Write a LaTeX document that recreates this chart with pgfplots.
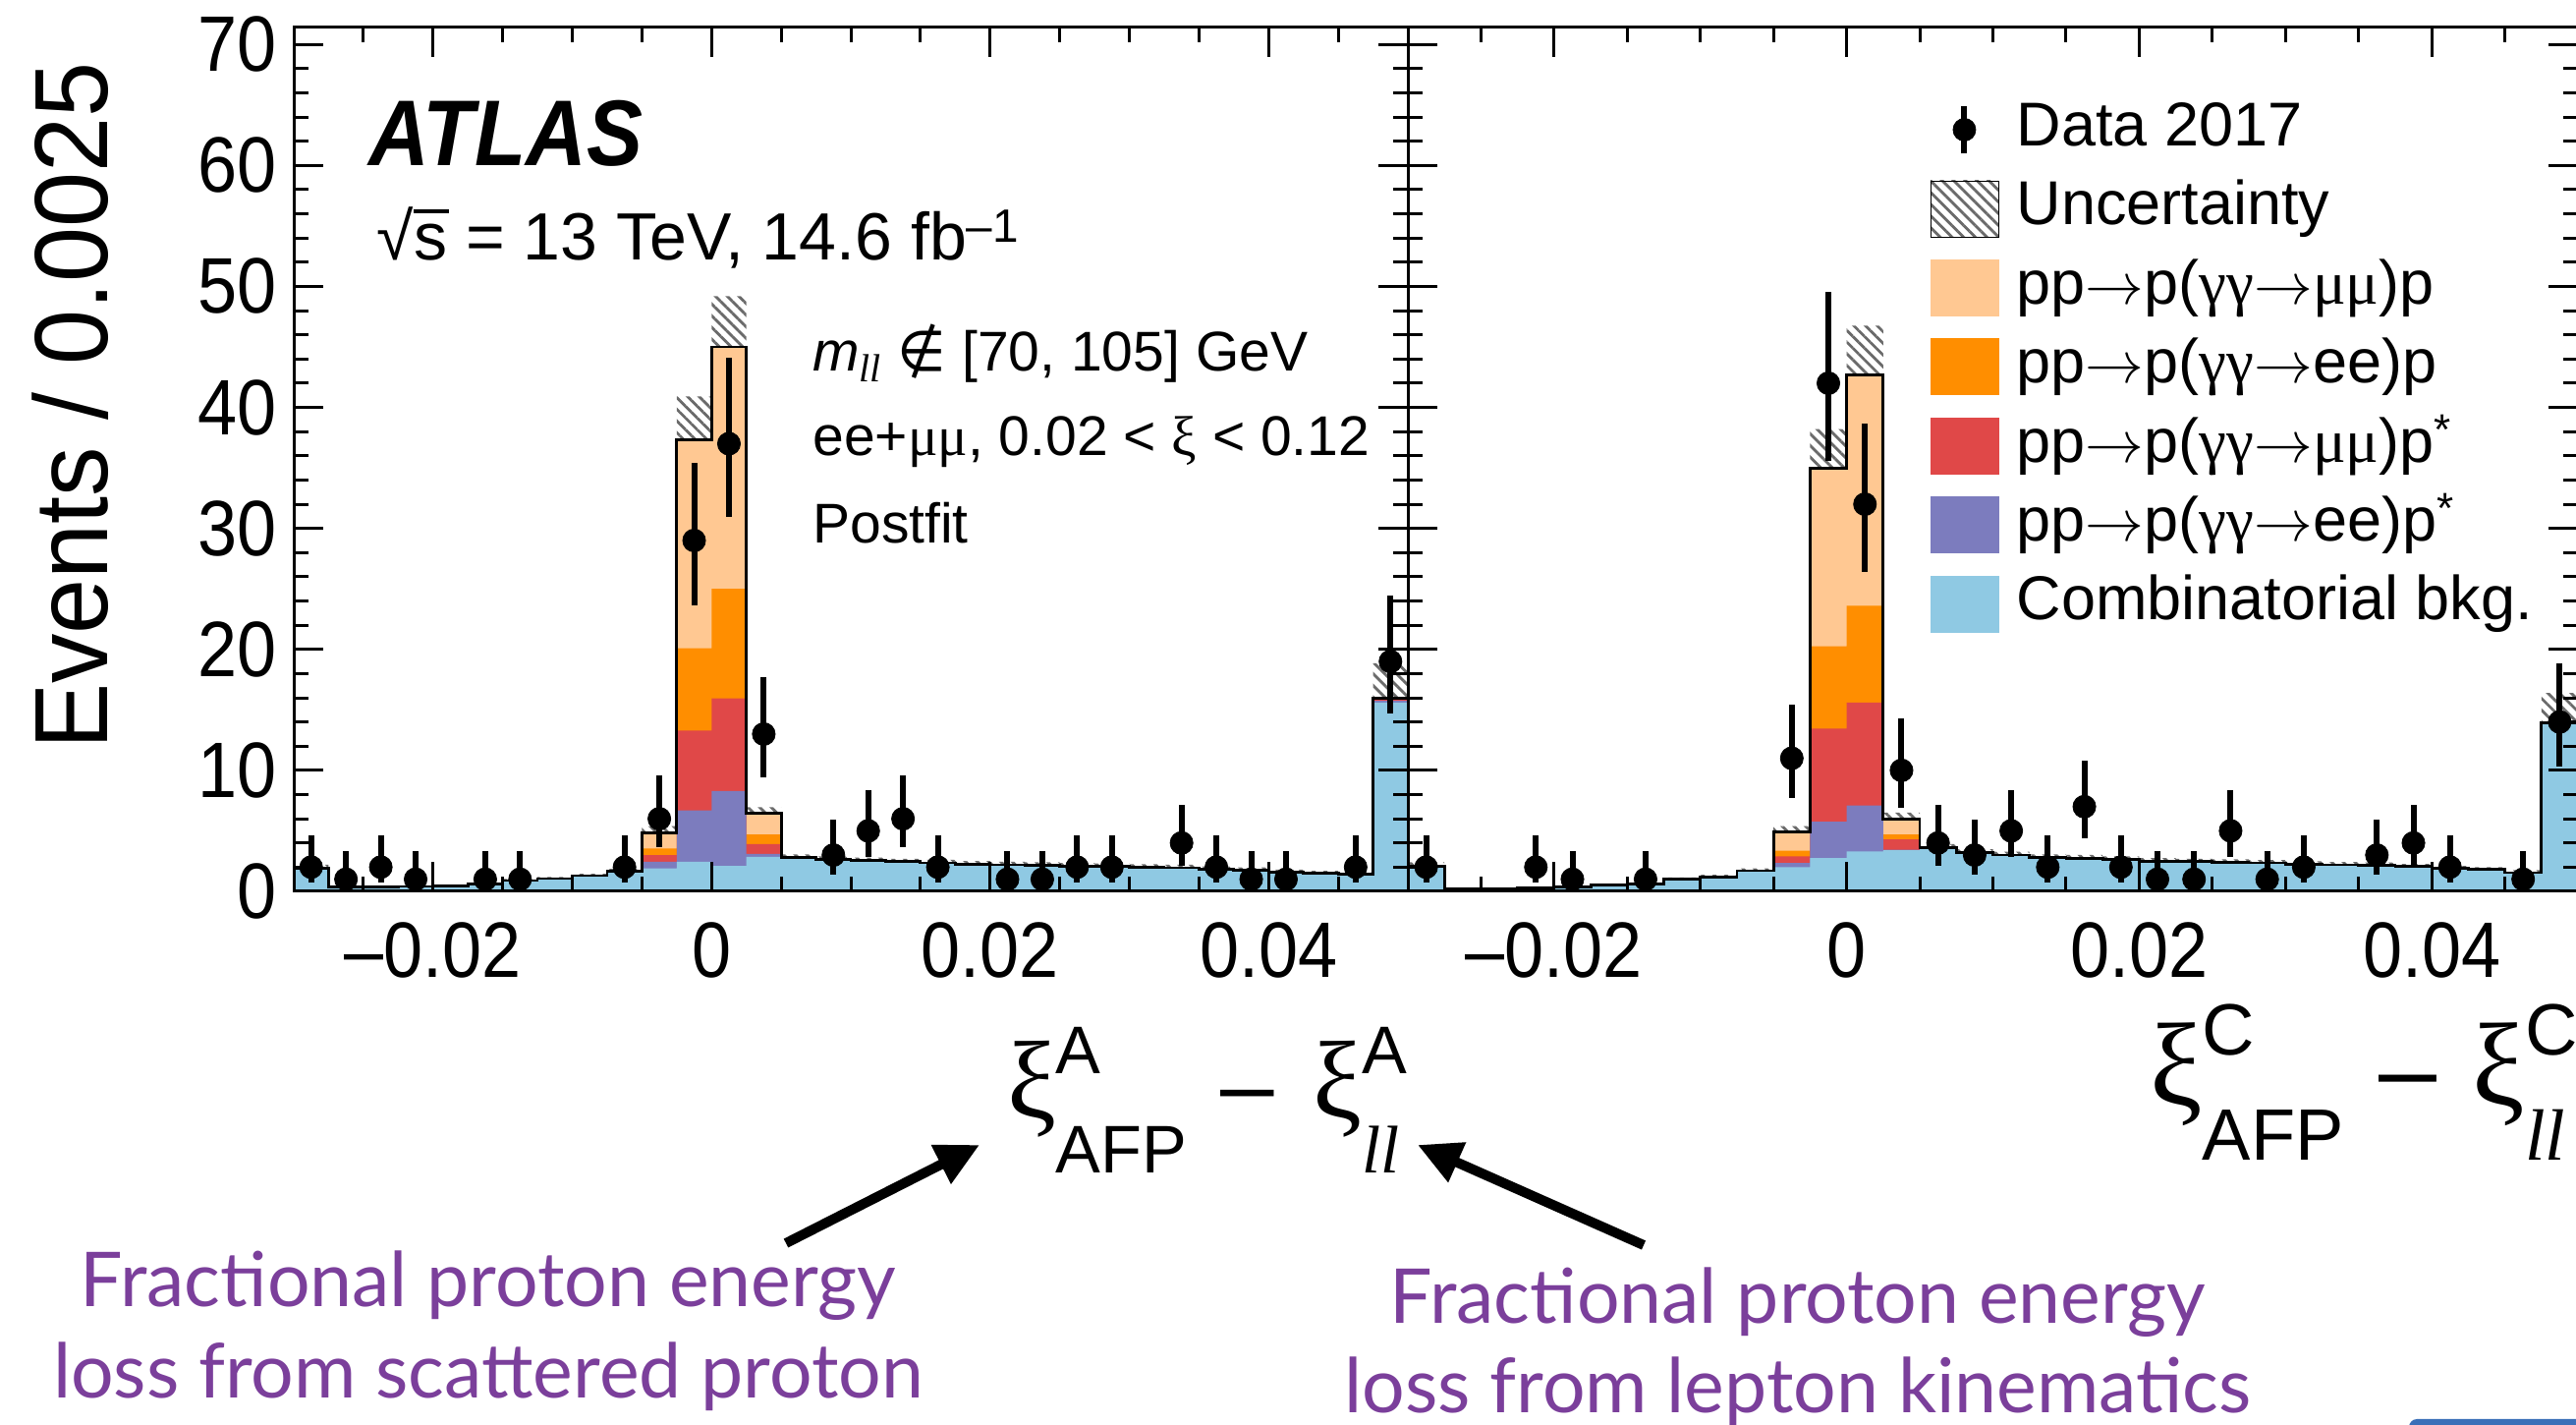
\documentclass[border=0pt]{standalone}
\usepackage{fontspec}
\setmainfont{Liberation Sans}
\newfontfamily\tickfont{Liberation Sans}[FakeStretch=0.9]
\newfontfamily\ylabfont{Liberation Sans}[FakeStretch=0.95]
\newfontfamily\atlasfont{Liberation Sans}[FakeStretch=0.9]
\newfontfamily\grk{Liberation Serif}
\newfontfamily\symfont{DejaVu Sans}
\newfontfamily\slidefont{Lato}
\usepackage{graphicx}
\usepackage{pgfplots}
\pgfplotsset{compat=1.18}
\usepackage{pgfplotstable}
\usepgfplotslibrary{fillbetween}
\usetikzlibrary{patterns.meta,arrows.meta}

\definecolor{cpeach}{HTML}{FFC892}
\definecolor{corange}{HTML}{FF8E00}
\definecolor{cred}{HTML}{E04848}
\definecolor{cpurple}{HTML}{7C7CBE}
\definecolor{cblue}{HTML}{8FC9E3}
\definecolor{hatchgray}{HTML}{6A6A6A}
\definecolor{slidepurple}{HTML}{7B3F9B}
\definecolor{slideblue}{HTML}{3A6FB8}

\tikzset{hatch/.style={pattern={Lines[angle=-45,distance=4.2pt,line width=1.4pt]}, pattern color=hatchgray}}

\newcommand{\fsz}[1]{\fontsize{#1}{#1}\selectfont}
\newcommand{\arr}{\scalebox{1.2}{$\rightarrow$}}

% MC stack, left panel (xi^A): x = bin left edge, b = combinatorial bkg,
% p = pp->p(gg->ee)p*, r = pp->p(gg->mumu)p*, o = pp->p(gg->ee)p, k = pp->p(gg->mumu)p, e = uncertainty
\pgfplotstableread{
x b p r o k e
-0.0300 1.90 0 0 0 0 0.30
-0.0275 0.35 0 0 0 0 0.08
-0.0250 0.35 0 0 0 0 0.08
-0.0225 0.40 0 0 0 0 0.08
-0.0200 0.45 0 0 0 0 0.08
-0.0175 0.60 0 0 0 0 0.10
-0.0150 0.90 0 0 0 0 0.12
-0.0125 1.05 0 0 0 0 0.14
-0.0100 1.30 0 0 0 0 0.16
-0.0075 1.65 0 0 0 0 0.20
-0.0050 1.90 0.55 0.55 0.55 1.25 0.60
-0.0025 2.45 4.25 6.60 6.80 17.20 3.60
0.0000 2.10 6.20 7.65 9.05 20.00 4.20
0.0025 2.85 0.25 0.80 0.80 1.75 0.50
0.0050 2.80 0 0 0 0 0.25
0.0075 2.65 0 0 0 0 0.25
0.0100 2.55 0 0 0 0 0.25
0.0125 2.45 0 0 0 0 0.25
0.0150 2.35 0 0 0 0 0.25
0.0175 2.25 0 0 0 0 0.25
0.0200 2.20 0 0 0 0 0.25
0.0225 2.15 0 0 0 0 0.25
0.0250 2.10 0 0 0 0 0.25
0.0275 2.05 0 0 0 0 0.25
0.0300 2.00 0 0 0 0 0.25
0.0325 1.95 0 0 0 0 0.25
0.0350 1.85 0 0 0 0 0.22
0.0375 1.75 0 0 0 0 0.22
0.0400 1.60 0 0 0 0 0.20
0.0425 1.50 0 0 0 0 0.20
0.0450 1.40 0 0 0 0 0.20
0.0475 15.60 0.15 0.20 0 0 2.90
0.0500 15.60 0.15 0.20 0 0 2.90
}\tabL

\pgfplotstableread{
x b p r o k e
-0.0300 2.10 0 0 0 0 0.30
-0.0275 0.25 0 0 0 0 0.06
-0.0250 0.25 0 0 0 0 0.06
-0.0225 0.30 0 0 0 0 0.07
-0.0200 0.35 0 0 0 0 0.08
-0.0175 0.50 0 0 0 0 0.10
-0.0150 0.60 0 0 0 0 0.12
-0.0125 1.00 0 0 0 0 0.15
-0.0100 1.20 0 0 0 0 0.16
-0.0075 1.70 0 0 0 0 0.20
-0.0050 2.00 0.35 0.55 0.45 1.55 0.50
-0.0025 2.75 3.00 7.70 6.80 14.70 3.25
0.0000 3.30 3.80 8.50 8.00 19.10 4.05
0.0025 3.40 0.05 0.85 0.40 1.30 0.50
0.0050 3.60 0 0 0 0 0.30
0.0075 3.20 0 0 0 0 0.28
0.0100 3.00 0 0 0 0 0.28
0.0125 2.80 0 0 0 0 0.26
0.0150 2.75 0 0 0 0 0.26
0.0175 2.65 0 0 0 0 0.25
0.0200 2.50 0 0 0 0 0.25
0.0225 2.45 0 0 0 0 0.25
0.0250 2.40 0 0 0 0 0.25
0.0275 2.35 0 0 0 0 0.24
0.0300 2.25 0 0 0 0 0.24
0.0325 2.20 0 0 0 0 0.23
0.0350 2.15 0 0 0 0 0.23
0.0375 2.05 0 0 0 0 0.22
0.0400 1.90 0 0 0 0 0.21
0.0425 1.80 0 0 0 0 0.20
0.0450 1.55 0 0 0 0 0.20
0.0475 13.90 0 0 0 0 2.50
0.0500 13.90 0 0 0 0 2.50
}\tabR

% Data 2017: bin centre, count, Poisson error down / up
\pgfplotstableread{
x n em ep
-0.02875 2 1.292 2.638
-0.02625 1 0.827 2.300
-0.02375 2 1.292 2.638
-0.02125 1 0.827 2.300
-0.01625 1 0.827 2.300
-0.01375 1 0.827 2.300
-0.00625 2 1.292 2.638
-0.00375 6 2.380 3.584
-0.00125 29 5.330 6.430
0.00125 37 6.030 7.110
0.00375 13 3.559 4.697
0.00875 3 1.633 2.918
0.01125 5 2.160 3.382
0.01375 6 2.380 3.584
0.01625 2 1.292 2.638
0.02125 1 0.827 2.300
0.02375 1 0.827 2.300
0.02625 2 1.292 2.638
0.02875 2 1.292 2.638
0.03375 4 1.914 3.163
0.03625 2 1.292 2.638
0.03875 1 0.827 2.300
0.04125 1 0.827 2.300
0.04625 2 1.292 2.638
0.04875 19 4.310 5.420
}\datL

\pgfplotstableread{
x n em ep
-0.02875 2 1.292 2.638
-0.02125 2 1.292 2.638
-0.01875 1 0.827 2.300
-0.01375 1 0.827 2.300
-0.00375 11 3.266 4.416
-0.00125 42 6.430 7.510
0.00125 32 5.610 6.700
0.00375 10 3.109 4.267
0.00625 4 1.914 3.163
0.00875 3 1.633 2.918
0.01125 5 2.160 3.382
0.01375 2 1.292 2.638
0.01625 7 2.581 3.770
0.01875 2 1.292 2.638
0.02125 1 0.827 2.300
0.02375 1 0.827 2.300
0.02625 5 2.160 3.382
0.02875 1 0.827 2.300
0.03125 2 1.292 2.638
0.03625 3 1.633 2.918
0.03875 4 1.914 3.163
0.04125 2 1.292 2.638
0.04625 1 0.827 2.300
0.04875 14 3.700 4.830
}\datR

\pgfplotsset{
  histpanel/.style={
    scale only axis, height=439.5pt,
    xmin=-0.03, xmax=0.05, ymin=0, ymax=71.4,
    axis on top,
    tick align=inside,
    scaled x ticks=false, scaled y ticks=false,
    xtick={-0.02,0,0.02,0.04},
    xticklabels={–0.02,0,0.02,0.04},
    minor xtick={-0.025,-0.015,-0.01,-0.005,0.005,0.01,0.015,0.025,0.03,0.035,0.045},
    ytick={0,10,20,30,40,50,60,70},
    minor ytick={2,4,6,8,12,14,16,18,22,24,26,28,32,34,36,38,42,44,46,48,52,54,56,58,62,64,66,68},
    major tick length=15pt, minor tick length=7.5pt,
    tick style={line width=1.5pt,black},
    axis line style={line width=1.5pt},
    xticklabel style={font=\tickfont\fsz{40pt}, inner sep=0pt, anchor=north, yshift=-15.5pt},
    yticklabel style={font=\tickfont\fsz{40pt}, inner sep=0pt, anchor=east, xshift=-8.5pt},
  },
}

\newcommand{\panelplots}[3]{%
  \addplot[draw=none, fill=cpeach, const plot, forget plot] table[x=x, y expr=\thisrow{b}+\thisrow{p}+\thisrow{r}+\thisrow{o}+\thisrow{k}] {#1} \closedcycle;
  \addplot[draw=none, fill=corange, const plot, forget plot] table[x=x, y expr=\thisrow{b}+\thisrow{p}+\thisrow{r}+\thisrow{o}] {#1} \closedcycle;
  \addplot[draw=none, fill=cred, const plot, forget plot] table[x=x, y expr=\thisrow{b}+\thisrow{p}+\thisrow{r}] {#1} \closedcycle;
  \addplot[draw=none, fill=cpurple, const plot, forget plot] table[x=x, y expr=\thisrow{b}+\thisrow{p}] {#1} \closedcycle;
  \addplot[draw=none, fill=cblue, const plot, forget plot] table[x=x, y=b] {#1} \closedcycle;
  \addplot[black, line width=1.4pt, const plot, forget plot] table[x=x, y expr=\thisrow{b}+\thisrow{p}+\thisrow{r}+\thisrow{o}+\thisrow{k}] {#1};
  \addplot[draw=none, const plot, forget plot, name path=up#3] table[x=x, y expr=\thisrow{b}+\thisrow{p}+\thisrow{r}+\thisrow{o}+\thisrow{k}+\thisrow{e}] {#1};
  \addplot[draw=none, const plot, forget plot, name path=dn#3] table[x=x, y expr=\thisrow{b}+\thisrow{p}+\thisrow{r}+\thisrow{o}+\thisrow{k}-\thisrow{e}] {#1};
  \addplot[draw=none, hatch, forget plot] fill between[of=up#3 and dn#3];
  \addplot[only marks, mark=*, mark size=5.8pt, black, forget plot,
     error bars/.cd, y dir=both, y explicit, error mark=none,
     error bar style={line width=3pt, black}]
     table[x=x, y=n, y error plus=ep, y error minus=em] {#2};
}

\begin{document}
\begin{tikzpicture}
% ---------------- left panel ----------------
\begin{axis}[histpanel,
  at={(149.5pt,271.5pt)}, anchor=south west, width=567pt,
  yticklabels={0,10,20,30,40,50,60,70},
  ylabel={Events / 0.0025},
  ylabel style={at={(rel axis cs:-0.2002,0.562)}, anchor=center, inner sep=0pt, font=\ylabfont\fsz{53pt}},
  xlabel={\fsz{49pt}{\grk\fsz{56pt}ξ}\rlap{\fsz{34.3pt}\raisebox{22.5pt}{A}}\raisebox{-28pt}{\fsz{34.3pt}AFP}\hspace{17pt}–\hspace{20pt}{\grk\fsz{56pt}ξ}\rlap{\raisebox{-28pt}{\fsz{34.3pt}\grk\itshape ll}}\raisebox{22.5pt}{\fsz{34.3pt}A}},
  xlabel style={at={(rel axis cs:1,-0.2617)}, anchor=base east, inner sep=0pt},
]
\panelplots{\tabL}{\datL}{L}
\end{axis}
% ---------------- right panel ----------------
\begin{axis}[histpanel,
  at={(716.5pt,271.5pt)}, anchor=south west, width=595.5pt,
  yticklabels={},
  xlabel={\fsz{53pt}{\grk\fsz{60pt}ξ}\rlap{\fsz{37pt}\raisebox{25.5pt}{C}}\raisebox{-28pt}{\fsz{37pt}AFP}\hspace{18pt}–\hspace{18pt}{\grk\fsz{60pt}ξ}\rlap{\raisebox{-28pt}{\fsz{37pt}\grk\itshape ll}}\raisebox{25.5pt}{\fsz{37pt}C}},
  xlabel style={at={(rel axis cs:1,-0.2469)}, anchor=base east, inner sep=0pt},
  legend style={at={(axis description cs:0.4463,0.9274)}, anchor=north west,
    draw=none, fill=none, inner sep=0pt, outer sep=0pt, row sep=0pt,
    font=\fsz{31.5pt},
    nodes={inner sep=0pt, text height=23pt, text depth=6.5pt},
    /tikz/every odd column/.append style={column sep=9.25pt}},
  legend cell align=left,
]
\panelplots{\tabR}{\datR}{R}
\addlegendimage{legend image code/.code={\path[draw=none,fill=none] (0pt,-20.1pt) rectangle (34.5pt,20.1pt); \draw[black, line width=3pt] (17.25pt,-12pt) -- (17.25pt,12pt); \fill[black] (17.25pt,0pt) circle (5.75pt);}}
\addlegendentry{Data 2017}
\addlegendimage{legend image code/.code={\path[draw=none,fill=none] (0pt,-20.1pt) rectangle (34.5pt,20.1pt); \fill[hatch] (0pt,-14.25pt) rectangle (34.5pt,14.25pt);}}
\addlegendentry{Uncertainty}
\addlegendimage{legend image code/.code={\path[draw=none,fill=none] (0pt,-20.1pt) rectangle (34.5pt,20.1pt); \fill[cpeach] (0pt,-14.25pt) rectangle (34.5pt,14.25pt);}}
\addlegendentry{pp\arr p({\grk γγ}\arr{\grk μμ})p}
\addlegendimage{legend image code/.code={\path[draw=none,fill=none] (0pt,-20.1pt) rectangle (34.5pt,20.1pt); \fill[corange] (0pt,-14.25pt) rectangle (34.5pt,14.25pt);}}
\addlegendentry{pp\arr p({\grk γγ}\arr ee)p}
\addlegendimage{legend image code/.code={\path[draw=none,fill=none] (0pt,-20.1pt) rectangle (34.5pt,20.1pt); \fill[cred] (0pt,-14.25pt) rectangle (34.5pt,14.25pt);}}
\addlegendentry{pp\arr p({\grk γγ}\arr{\grk μμ})p\textsuperscript{*}}
\addlegendimage{legend image code/.code={\path[draw=none,fill=none] (0pt,-20.1pt) rectangle (34.5pt,20.1pt); \fill[cpurple] (0pt,-14.25pt) rectangle (34.5pt,14.25pt);}}
\addlegendentry{pp\arr p({\grk γγ}\arr ee)p\textsuperscript{*}}
\addlegendimage{legend image code/.code={\path[draw=none,fill=none] (0pt,-20.1pt) rectangle (34.5pt,20.1pt); \fill[cblue] (0pt,-14.25pt) rectangle (34.5pt,14.25pt);}}
\addlegendentry{Combinatorial bkg.}
\end{axis}

% ---------------- labels in the left panel ----------------
\node[anchor=base west, inner sep=0pt, font=\atlasfont\bfseries\itshape\fsz{47.5pt}] at (187.5pt,640.5pt) {ATLAS};
\node[anchor=base west, inner sep=0pt, font=\fsz{34pt}] at (191.75pt,592.5pt)
  {√\makebox[0pt][l]{\rule[0.70em]{0.52em}{0.06em}}s = 13 TeV, 14.6 fb\textsuperscript{–1}};
\node[anchor=base west, inner sep=0pt, font=\fsz{28.5pt}] at (413.5pt,536pt)
  {\textit{m}\textsubscript{\grk\itshape ll} {\symfont ∉} [70, 105] GeV};
\node[anchor=base west, inner sep=0pt, font=\fsz{28.5pt}] at (413.5pt,493pt)
  {ee+{\grk μμ}, 0.02 < {\grk ξ} < 0.12};
\node[anchor=base west, inner sep=0pt, font=\fsz{28.5pt}] at (413.5pt,448.5pt) {Postfit};

% ---------------- slide annotations ----------------
\draw[line width=5pt, -{Triangle[length=22pt,width=21pt]}] (400pt,92.5pt) -- (498.5pt,142.5pt);
\draw[line width=5pt, -{Triangle[length=22pt,width=21pt]}] (836.5pt,91.5pt) -- (721.5pt,142.5pt);
\node[anchor=base, inner sep=0pt, font=\slidefont\fsz{38.5pt}, text=slidepurple] at (248.5pt,60pt) {Fractional proton energy};
\node[anchor=base, inner sep=0pt, font=\slidefont\fsz{38.5pt}, text=slidepurple] at (248.5pt,13.5pt) {loss from scattered proton};
\node[anchor=base, inner sep=0pt, font=\slidefont\fsz{38.5pt}, text=slidepurple] at (915pt,51.5pt) {Fractional proton energy};
\node[anchor=base, inner sep=0pt, font=\slidefont\fsz{38.5pt}, text=slidepurple] at (915pt,6pt) {loss from lepton kinematics};
\fill[slideblue, rounded corners=4pt] (1226pt,-6pt) rectangle (1330pt,3pt);

\pgfresetboundingbox
\useasboundingbox (0pt,0pt) rectangle (1311pt,725pt);
\end{tikzpicture}
\end{document}
